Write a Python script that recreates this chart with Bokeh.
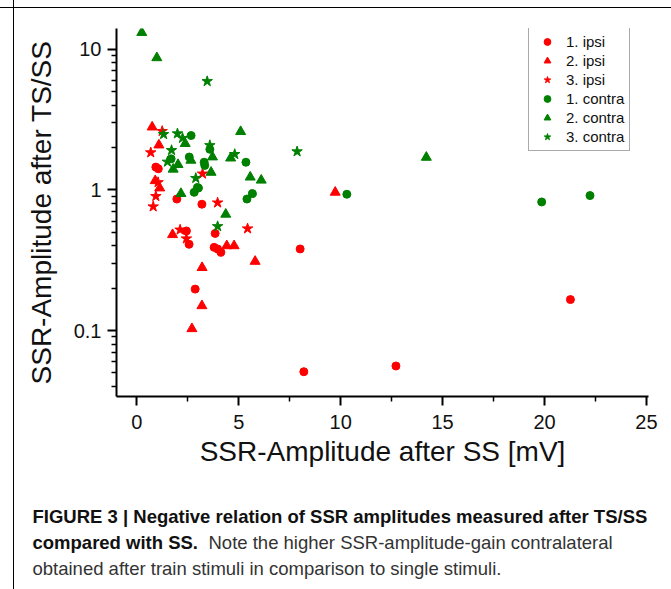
from bokeh.plotting import figure
from bokeh.layouts import column
from bokeh.models import Range1d, FixedTicker
from bokeh.core.properties import value
from bokeh.embed import file_html
from bokeh.resources import INLINE

# ---- data ----
ipsi1_x = [0.93, 1.05, 1.96, 3.19, 2.43, 2.56, 3.84, 3.79, 3.96, 4.12, 2.86, 8.01, 21.27, 8.19, 12.71]
ipsi1_y = [1.45, 1.41, 0.86, 0.79, 0.51, 0.41, 0.49, 0.39, 0.38, 0.36, 0.197, 0.38, 0.166, 0.051, 0.056]

ipsi2_x = [0.75, 1.08, 0.90, 1.12, 1.75, 4.41, 4.77, 5.80, 3.20, 3.19, 2.70, 9.73]
ipsi2_y = [2.79, 2.08, 1.16, 1.03, 0.48, 0.40, 0.40, 0.31, 0.28, 0.15, 0.103, 0.96]

ipsi3_x = [1.24, 0.68, 3.22, 1.04, 0.93, 0.80, 3.96, 5.43, 2.12, 2.43]
ipsi3_y = [2.61, 1.84, 1.30, 1.13, 0.90, 0.76, 0.81, 0.53, 0.52, 0.45]

contra1_x = [2.66, 3.58, 2.57, 1.68, 3.30, 3.33, 5.35, 2.97, 2.81, 3.02, 5.40, 5.67, 10.30, 19.86, 22.23]
contra1_y = [2.43, 1.94, 1.71, 1.66, 1.57, 1.49, 1.57, 1.04, 0.96, 1.03, 0.86, 0.94, 0.93, 0.82, 0.91]

contra2_x = [0.24, 0.98, 2.37, 5.09, 3.71, 2.65, 4.60, 2.02, 1.78, 3.64, 5.56, 6.10, 2.16, 4.36, 14.20]
contra2_y = [13.1, 8.67, 2.13, 2.59, 1.71, 1.62, 1.68, 1.51, 1.40, 1.33, 1.23, 1.17, 0.94, 0.67, 1.70]

contra3_x = [3.45, 1.31, 1.99, 2.24, 1.70, 1.50, 3.58, 4.80, 2.89, 3.96, 7.86]
contra3_y = [5.90, 2.48, 2.51, 2.33, 1.91, 1.58, 2.07, 1.79, 1.21, 0.55, 1.87]

series_labels = ["1. ipsi", "2. ipsi", "3. ipsi", "1. contra", "2. contra", "3. contra"]
x_ticks = [0, 5, 10, 15, 20, 25]
x_minor = [2.5, 7.5, 12.5, 17.5, 22.5]
y_ticks = [0.1, 1, 10]
y_tick_labels = {0.1: "0.1", 1: "1", 10: "10"}
y_minor = [0.04, 0.05, 0.06, 0.07, 0.08, 0.09,
           0.2, 0.3, 0.4, 0.5, 0.6, 0.7, 0.8, 0.9,
           2, 3, 4, 5, 6, 7, 8, 9]

x_title = "SSR-Amplitude after SS [mV]"
y_title = "SSR-Amplitude after TS/SS"
cap1 = "FIGURE 3 | Negative relation of SSR amplitudes measured after TS/SS"
cap2a = "compared with SS."
cap2b = "Note the higher SSR-amplitude-gain contralateral"
cap3 = "obtained after train stimuli in comparison to single stimuli."

RED = "#ff0000"
GREEN = "#008000"
FONT = "Liberation Sans"
CAPFONT = "Liberation Sans"

W = 671
H_MAIN = 480
H_CAP = 109

frame_css = {
    "background-color": "white",
    "background-image": "linear-gradient(#000,#000), linear-gradient(#000,#000)",
    "background-size": "1px 100%, 100% 1px",
    "background-position": "13px 0px, 0px 7px",
    "background-repeat": "no-repeat",
}
cap_css = {
    "background-color": "white",
    "background-image": "linear-gradient(#000,#000)",
    "background-size": "1px 100%",
    "background-position": "13px 0px",
    "background-repeat": "no-repeat",
}

p = figure(width=W, height=H_MAIN, output_backend="svg", toolbar_location=None,
           y_axis_type="log", x_range=Range1d(-1, 25.1), y_range=Range1d(0.034, 14),
           min_border_left=116, min_border_right=23, min_border_top=28, min_border_bottom=84)
p.background_fill_color = "white"
p.border_fill_alpha = 0
p.outline_line_color = None
p.grid.visible = False
p.styles = frame_css

series = [
    (ipsi1_x, ipsi1_y, "circle", RED, 8),
    (ipsi2_x, ipsi2_y, "triangle", RED, 10),
    (ipsi3_x, ipsi3_y, "star", RED, 11),
    (contra1_x, contra1_y, "circle", GREEN, 8),
    (contra2_x, contra2_y, "triangle", GREEN, 10),
    (contra3_x, contra3_y, "star", GREEN, 11),
]
for (xs, ys, mk, col, sz), lab in zip(series, series_labels):
    p.scatter(xs, ys, marker=mk, size=sz, fill_color=col, line_color=col, legend_label=lab)

# axes
xa = p.xaxis[0]
ya = p.yaxis[0]
xa.ticker = FixedTicker(ticks=x_ticks, minor_ticks=x_minor)
ya.ticker = FixedTicker(ticks=y_ticks, minor_ticks=y_minor)
ya.major_label_overrides = y_tick_labels
for ax in (xa, ya):
    ax.axis_line_width = 2
    ax.axis_line_color = "black"
    ax.major_tick_line_width = 2
    ax.minor_tick_line_width = 1.5
    ax.major_tick_line_color = "black"
    ax.minor_tick_line_color = "black"
    ax.major_tick_out = 9
    ax.major_tick_in = 0
    ax.minor_tick_out = 5
    ax.minor_tick_in = 0
    ax.major_label_text_font = FONT
    ax.major_label_text_font_size = "20px"
    ax.major_label_text_color = "#111111"
    ax.axis_label_text_font = FONT
    ax.axis_label_text_font_size = "28px"
    ax.axis_label_text_font_style = "normal"
    ax.axis_label_text_color = "#111111"
xa.axis_label = x_title
ya.axis_label = y_title
xa.major_label_standoff = 9
xa.axis_label_standoff = 4
ya.major_label_standoff = 6
ya.axis_label_standoff = 14

# legend
lg = p.legend[0]
lg.location = (412, 245)
lg.border_line_color = "#555555"
lg.border_line_width = 1
lg.padding = 5
lg.spacing = 2
lg.margin = 0
lg.label_height = 17
lg.glyph_height = 17
lg.glyph_width = 26
lg.label_standoff = 6
lg.label_text_font = FONT
lg.label_text_font_size = "15px"
lg.label_text_color = "#111111"

# caption (separate text panel, coordinates = pixels within the panel)
c = figure(width=W, height=H_CAP, output_backend="svg", toolbar_location=None,
           x_range=Range1d(0, W), y_range=Range1d(H_CAP, 0),
           x_axis_location=None, y_axis_location=None, min_border=0)
c.grid.visible = False
c.outline_line_color = None
c.background_fill_alpha = 0
c.border_fill_alpha = 0
c.styles = cap_css

# keep the caption panel's frame independent of the chart's frame
for fig in (p, c):
    try:
        fig.frame_align = False
    except Exception:
        pass

def cap(text, x, y, bold, color):
    c.text(x=[x], y=[y], text=[text], text_baseline="middle", text_align="left",
           text_font=value(CAPFONT), text_font_size="18.5px",
           text_font_style="bold" if bold else "normal", text_color=color)

cap(cap1, 32, 36, True, "#111111")
cap(cap2a, 32, 62, True, "#111111")
cap(cap2b, 208, 62, False, "#333333")
cap(cap3, 32, 88, False, "#333333")

layout = column(p, c, spacing=0)
open("out.html", "w").write(file_html(layout, INLINE))
